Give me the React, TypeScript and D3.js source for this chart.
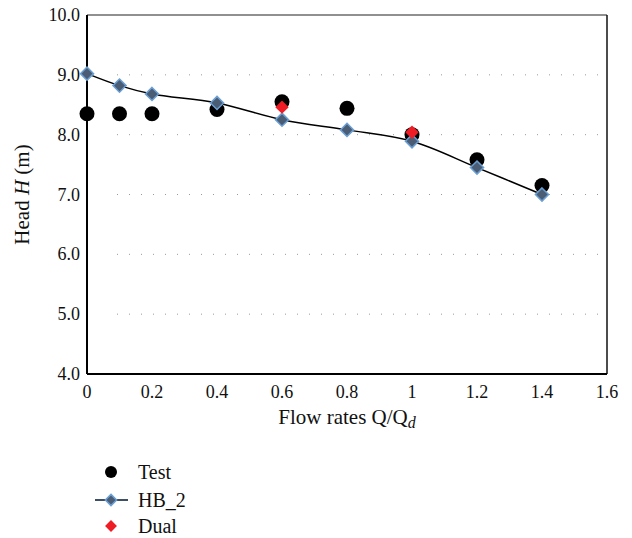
import { useEffect, useRef } from 'react';
import * as d3 from 'd3';

const W = 632;
const H = 538;
const FONT = '"Liberation Serif", "Times New Roman", serif';

const testQ = [0, 0.1, 0.2, 0.4, 0.6, 0.8, 1.0, 1.2, 1.4];
const testH = [8.35, 8.35, 8.35, 8.42, 8.55, 8.44, 8.0, 7.58, 7.15];
const hbQ = [0, 0.1, 0.2, 0.4, 0.6, 0.8, 1.0, 1.2, 1.4];
const hbH = [9.02, 8.82, 8.68, 8.53, 8.25, 8.08, 7.89, 7.45, 7.0];
const dualQ = [0.6, 1.0];
const dualH = [8.46, 8.04];
const xTicks = [0, 0.2, 0.4, 0.6, 0.8, 1, 1.2, 1.4, 1.6];
const yTicks = [4, 5, 6, 7, 8, 9, 10];

const margin = { left: 87, right: 25, top: 15, bottom: 164 };

function draw(svgEl: SVGSVGElement) {
  const svg = d3.select(svgEl);
  svg.selectAll('*').remove();

  const x = d3.scaleLinear().domain([0, 1.6]).range([margin.left, W - margin.right]);
  const y = d3.scaleLinear().domain([4, 10]).range([H - margin.bottom, margin.top]);

  // dotted gridlines
  svg.append('g')
    .selectAll('line')
    .data(yTicks.filter((t) => t > 4 && t < 10))
    .join('line')
    .attr('x1', x(0) + 30)
    .attr('x2', x(1.6) - 4)
    .attr('y1', (d) => y(d))
    .attr('y2', (d) => y(d))
    .attr('stroke', '#999')
    .attr('stroke-width', 1)
    .attr('stroke-dasharray', '1,11');

  // frame
  svg.append('line').attr('x1', x(0)).attr('x2', x(1.6)).attr('y1', y(10)).attr('y2', y(10))
    .attr('stroke', '#222').attr('stroke-width', 1.2);
  svg.append('line').attr('x1', x(1.6)).attr('x2', x(1.6)).attr('y1', y(10)).attr('y2', y(4))
    .attr('stroke', '#111').attr('stroke-width', 1.5);
  svg.append('line').attr('x1', x(0)).attr('x2', x(1.6)).attr('y1', y(4)).attr('y2', y(4))
    .attr('stroke', '#000').attr('stroke-width', 2);
  svg.append('line').attr('x1', x(0)).attr('x2', x(0)).attr('y1', y(10)).attr('y2', y(4))
    .attr('stroke', '#000').attr('stroke-width', 2);

  // tick labels
  svg.append('g')
    .selectAll('text')
    .data(yTicks)
    .join('text')
    .attr('x', x(0) - 7)
    .attr('y', (d) => y(d) + 6)
    .attr('text-anchor', 'end')
    .attr('font-family', FONT)
    .attr('font-size', 18)
    .attr('fill', '#111')
    .text((d) => d.toFixed(1));

  svg.append('g')
    .selectAll('text')
    .data(xTicks)
    .join('text')
    .attr('x', (d) => x(d))
    .attr('y', y(4) + 24)
    .attr('text-anchor', 'middle')
    .attr('font-family', FONT)
    .attr('font-size', 18)
    .attr('fill', '#111')
    .text((d) => String(d));

  // axis titles
  const yt = svg.append('text')
    .attr('transform', `translate(29,${(y(4) + y(10)) / 2}) rotate(-90)`)
    .attr('text-anchor', 'middle')
    .attr('font-family', FONT)
    .attr('font-size', 21)
    .attr('fill', '#111');
  yt.append('tspan').text('Head ');
  yt.append('tspan').attr('font-style', 'italic').text('H');
  yt.append('tspan').text(' (m)');

  const xt = svg.append('text')
    .attr('x', (x(0) + x(1.6)) / 2)
    .attr('y', y(4) + 50)
    .attr('text-anchor', 'middle')
    .attr('font-family', FONT)
    .attr('font-size', 21)
    .attr('fill', '#111');
  xt.append('tspan').text('Flow rates Q/Q');
  xt.append('tspan').attr('font-style', 'italic').attr('font-size', 16).attr('dy', 4).text('d');

  const diamond = d3.symbol().type(d3.symbolDiamond2).size(110);
  const diamondRed = d3.symbol().type(d3.symbolDiamond2).size(115);

  // Test points
  svg.append('g')
    .selectAll('circle')
    .data(testQ.map((q, i) => [q, testH[i]]))
    .join('circle')
    .attr('cx', (d) => x(d[0]))
    .attr('cy', (d) => y(d[1]))
    .attr('r', 7.5)
    .attr('fill', '#000');

  // HB_2 line
  const line = d3.line<number[]>()
    .x((d) => x(d[0]))
    .y((d) => y(d[1]))
    .curve(d3.curveCatmullRom.alpha(0.5));
  const hbPts = hbQ.map((q, i) => [q, hbH[i]]);
  svg.append('path')
    .datum(hbPts)
    .attr('d', line)
    .attr('fill', 'none')
    .attr('stroke', '#000')
    .attr('stroke-width', 1.5);

  svg.append('g')
    .selectAll('path')
    .data(hbPts)
    .join('path')
    .attr('transform', (d) => `translate(${x(d[0])},${y(d[1])})`)
    .attr('d', diamond)
    .attr('fill', '#4a5d75')
    .attr('stroke', '#6a9fd4')
    .attr('stroke-width', 1.5);

  // Dual points
  svg.append('g')
    .selectAll('path')
    .data(dualQ.map((q, i) => [q, dualH[i]]))
    .join('path')
    .attr('transform', (d) => `translate(${x(d[0])},${y(d[1])})`)
    .attr('d', diamondRed)
    .attr('fill', '#ee1c24');

  // legend
  const lg = svg.append('g').attr('font-family', FONT).attr('font-size', 20).attr('fill', '#111');
  lg.append('circle').attr('cx', 111).attr('cy', 472).attr('r', 6).attr('fill', '#000');
  lg.append('text').attr('x', 138).attr('y', 479).text('Test');
  lg.append('line').attr('x1', 95).attr('x2', 128).attr('y1', 500).attr('y2', 500)
    .attr('stroke', '#3b4f66').attr('stroke-width', 2);
  lg.append('path').attr('transform', 'translate(111,500)').attr('d', d3.symbol().type(d3.symbolDiamond2).size(80))
    .attr('fill', '#4a5d75').attr('stroke', '#6a9fd4').attr('stroke-width', 1.5);
  lg.append('text').attr('x', 138).attr('y', 507).text('HB_2');
  lg.append('path').attr('transform', 'translate(111,526)').attr('d', d3.symbol().type(d3.symbolDiamond2).size(90))
    .attr('fill', '#ee1c24');
  lg.append('text').attr('x', 138).attr('y', 533).text('Dual');
}

export default function App() {
  const ref = useRef<SVGSVGElement>(null);
  useEffect(() => {
    if (ref.current) draw(ref.current);
  }, []);
  return (
    <svg
      ref={ref}
      width={W}
      height={H}
      style={{ position: 'absolute', left: 0, top: 0, display: 'block', background: '#fff' }}
    />
  );
}
